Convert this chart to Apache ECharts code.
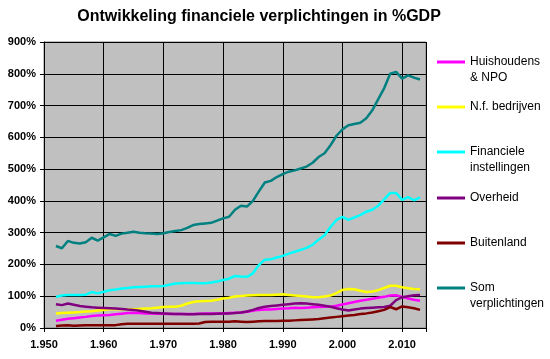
<!DOCTYPE html>
<html><head><meta charset="utf-8">
<script src="https://cdn.jsdelivr.net/npm/echarts@6/dist/echarts.min.js"></script>
<style>html,body{margin:0;padding:0;background:#fff}#c{width:550px;height:359px}</style>
</head><body><div id="c"></div>
<script>
const years = [1952,1953,1954,1955,1956,1957,1958,1959,1960,1961,1962,1963,1964,1965,1966,1967,1968,1969,1970,1971,1972,1973,1974,1975,1976,1977,1978,1979,1980,1981,1982,1983,1984,1985,1986,1987,1988,1989,1990,1991,1992,1993,1994,1995,1996,1997,1998,1999,2000,2001,2002,2003,2004,2005,2006,2007,2008,2009,2010,2011,2012,2013];
const huishoudens = [23,26,29,31,33,35,38,39,40,41,43,45,47,48,47,46,46,45,45,44,44,44,44,44,45,46,46,46,46,47,48,49,51,54,57,58,58,60,61,62,64,63,64,65,66,67,67,70,74,78,82,86,89,92,95,98,102,103,98,93,89,86];
const nfBedrijven = [46,47,48,49,50,52,53,55,57,59,59,59,59,59,60,61,62,64,66,67,67,70,77,82,84,85,86,89,93,95,99,101,102,103,104,104,104,105,106,104,102,101,99,97,97,99,102,110,120,123,122,117,113,115,119,126,133,133,128,125,123,122];
const financiele = [98,102,104,104,104,105,113,109,114,119,121,124,126,128,129,130,131,131,132,136,140,141,142,142,141,141,143,146,151,155,164,162,161,172,198,215,216,222,227,234,240,246,252,262,278,292,318,340,350,340,348,355,366,372,385,405,425,425,403,412,402,411];
const overheid = [75,72,77,73,69,67,65,64,63,62,61,60,58,57,54,51,48,47,46,45,44,44,43,43,44,44,44,45,46,46,47,49,52,57,63,67,69,71,73,75,77,78,77,75,73,70,67,62,58,55,58,61,63,64,65,66,70,88,97,100,103,104];
const buitenland = [6,8,9,7,8,9,9,9,9,9,9,12,13,13,13,13,13,13,13,13,13,13,13,13,14,19,20,20,20,20,21,20,19,20,21,22,22,22,23,23,24,25,26,27,28,31,33,35,37,39,41,44,46,49,53,57,66,59,68,65,62,57];
const som = [258,251,274,268,266,270,284,275,285,296,290,297,300,303,300,298,297,296,298,302,305,308,315,324,327,329,331,338,345,350,372,385,382,400,430,458,463,475,484,492,496,502,508,520,538,550,575,605,625,638,642,646,660,685,720,755,800,806,785,795,788,782];

const seriesNames = ['Huishoudens & NPO','N.f. bedrijven','Financiele instellingen','Overheid','Buitenland','Som verplichtingen'];
const legendLabels = [' \nHuishoudens\n& NPO','N.f. bedrijven',' \nFinanciele\ninstellingen','Overheid','Buitenland',' \nSom\nverplichtingen'];
const seriesValues = [huishoudens,nfBedrijven,financiele,overheid,buitenland,som];
const colors = ['#FF00FF','#FFFF00','#00FFFF','#800080','#800000','#008080'];
const legendY = [62,107,152,198,243,288];

const chart = echarts.init(document.getElementById('c'), null, {renderer:'canvas'});
const FONT = 'Arial, "Liberation Sans", sans-serif';
const series = seriesNames.map((n,i)=>({
  name:n, type:'line', symbol:'none', smooth:false,
  lineStyle:{color:colors[i], width:2.5}, itemStyle:{color:colors[i]},
  data: years.map((y,k)=>[y, seriesValues[i][k]]),
  animation:false
}));
const legends = seriesNames.map((n,i)=>{
  const lines = legendLabels[i].split('\n').length;
  return {
    data:[n], left:437, top:legendY[i]-lines*8, orient:'vertical',
    icon:'rect', itemWidth:28, itemHeight:3, padding:0,
    selectedMode:false,
    formatter: ()=>legendLabels[i],
    textStyle:{fontFamily:FONT, fontSize:12, lineHeight:16, color:'#000'}
  };
});
chart.setOption({
  animation:false,
  backgroundColor:'#fff',
  title:{text:'Ontwikkeling financiele verplichtingen in %GDP', left:254, textAlign:'center', top:4,
    textStyle:{fontFamily:FONT, fontSize:16, fontWeight:'bold', color:'#000'}},
  legend: legends,
  grid:{left:44, top:42, right:124, bottom:31, show:true, backgroundColor:'#C0C0C0', borderColor:'#808080', borderWidth:1},
  xAxis:{type:'value', min:1950, max:2014, interval:10,
    axisLine:{show:true, onZero:false, lineStyle:{color:'#000', width:1}},
    axisTick:{show:true, length:4, lineStyle:{color:'#000'}},
    splitLine:{show:true, lineStyle:{color:'#000', width:1}},
    showMaxLabel:false,
    axisLabel:{margin:11, fontFamily:FONT, fontSize:11, fontWeight:'bold', color:'#000',
      formatter:v=> (v%10===0) ? String(v).replace(/^(\d)(\d{3})$/,'$1.$2') : ''}
  },
  yAxis:{type:'value', min:0, max:900, interval:100,
    axisLine:{show:true, lineStyle:{color:'#000', width:1}},
    axisTick:{show:true, length:4, lineStyle:{color:'#000'}},
    splitLine:{show:true, lineStyle:{color:'#000', width:1}},
    axisLabel:{margin:8, fontFamily:FONT, fontSize:11, fontWeight:'bold', color:'#000', formatter:'{value}%'}
  },
  series: series
});
</script></body></html>
